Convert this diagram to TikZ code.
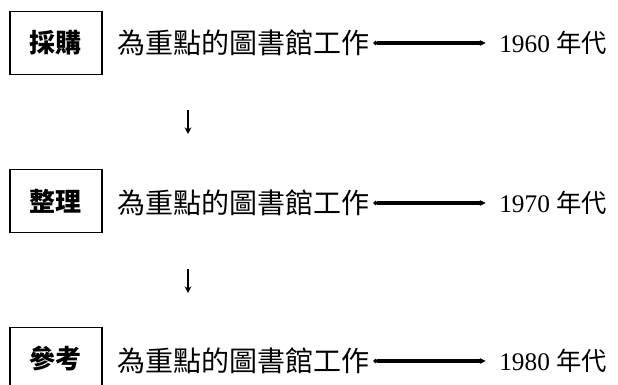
\documentclass[tikz,border=0pt]{standalone}
\usepackage{fontspec}
\setmainfont{Liberation Serif}
\newfontfamily\cjk{Noto Sans CJK TC}
\usetikzlibrary{arrows.meta}

\tikzset{
  labelbox/.style={draw, line width=1pt, minimum width=69pt, minimum height=47pt,
    inner sep=0pt, font=\cjk\bfseries\fontsize{19.5pt}{20pt}\selectfont},
  worktext/.style={anchor=west, inner sep=0pt, font=\cjk\fontsize{21pt}{21pt}\selectfont},
  datetext/.style={anchor=west, inner sep=0pt, font=\fontsize{19pt}{20pt}\selectfont},
  periodline/.style={draw, line width=2.5pt, shorten <=3pt, shorten >=10pt,
    {Circle[length=3pt]}-{Stealth[length=4.5pt,width=4.5pt]}},
  nextarrow/.style={line width=0.8pt, -{Stealth[length=5pt,width=5pt]}}
}

\begin{document}
\begin{tikzpicture}[x=0.75pt, y=-0.75pt]
  \useasboundingbox (0,0) rectangle (618,385);
  % 1960s
  \node[labelbox] (cai) at (56,43) {採購};
  \node[worktext] (w1) at (117,43) {為重點的圖書館工作};
  \node[datetext] (d1) at (499,43) {1960 {\cjk 年代}};
  \draw[periodline] (w1.east) -- (d1.west);
  % 1970s
  \node[labelbox] (zheng) at (56,201) {整理};
  \node[worktext] (w2) at (117,203) {為重點的圖書館工作};
  \node[datetext] (d2) at (499,203) {1970 {\cjk 年代}};
  \draw[periodline] (w2.east) -- (d2.west);
  % 1980s
  \node[labelbox] (can) at (56,359) {參考};
  \node[worktext] (w3) at (117,361) {為重點的圖書館工作};
  \node[datetext] (d3) at (499,361) {1980 {\cjk 年代}};
  \draw[periodline] (w3.east) -- (d3.west);
  % steps
  \coordinate (a1) at (188,110);
  \coordinate (b1) at (188,134);
  \coordinate (a2) at (188,269);
  \coordinate (b2) at (188,293);
  \draw[nextarrow] (a1) -- (b1);
  \draw[nextarrow] (a2) -- (b2);
\end{tikzpicture}
\end{document}
